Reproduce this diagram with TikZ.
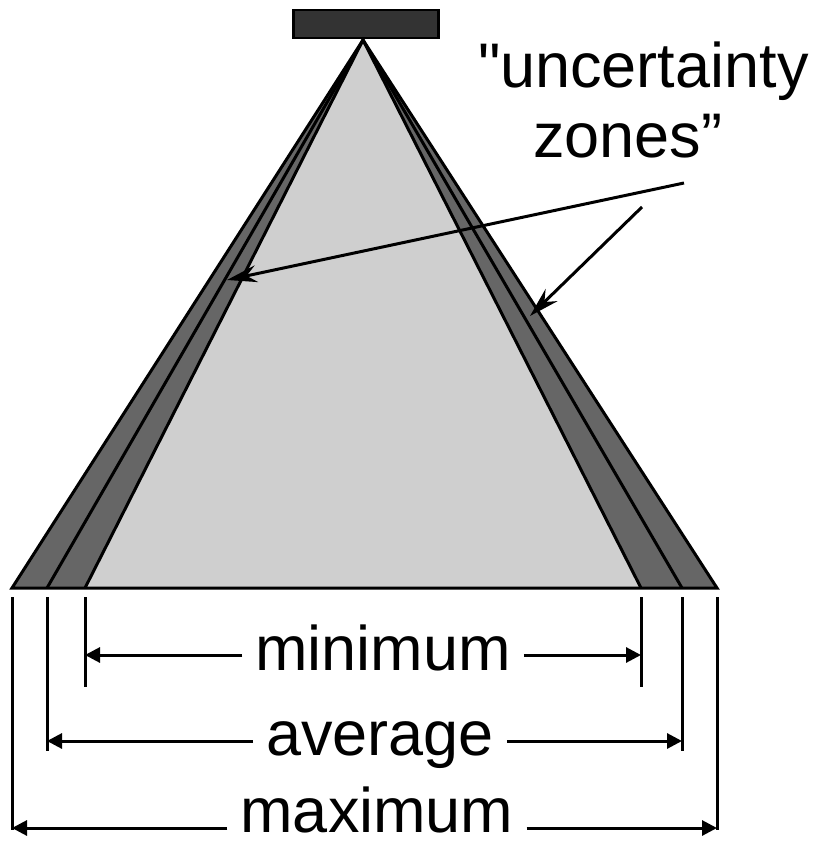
\documentclass[tikz,border=0pt]{standalone}
\usepackage{fontspec}
\setmainfont{Liberation Sans}
\usetikzlibrary{arrows.meta}
\definecolor{zonegray}{HTML}{666666}
\definecolor{coregray}{HTML}{CFCFCF}
\definecolor{boxgray}{HTML}{333333}
\newcommand{\straightquote}{\XeTeXglyph\XeTeXcharglyph"22\relax}
\tikzset{
  lbl/.style={font=\fontsize{63}{70}\selectfont, inner sep=0pt, outer sep=0pt},
  dimlbl/.style={lbl, inner xsep=13pt},
  edge/.style={line width=3pt, line join=miter},
  tick/.style={line width=3pt},
  dimarrow/.style={line width=3pt, -{Triangle[length=15pt,width=15pt]}},
  callout/.style={line width=3pt, -{Stealth[length=30pt,width=17pt,inset=10pt]}}
}
\begin{document}
\begin{tikzpicture}[x=1pt, y=-1pt]
\useasboundingbox (0,0) rectangle (816,842);
% sensor box
\node[draw=black, line width=2.5pt, fill=boxgray, minimum width=145pt, minimum height=28pt, inner sep=0pt, anchor=north west] (box) at (292,9) {};
% pyramid points
\coordinate (A) at (363,40);
\coordinate (L1) at (12,588);
\coordinate (L2) at (47,588);
\coordinate (L3) at (85,588);
\coordinate (R3) at (641,588);
\coordinate (R2) at (682,588);
\coordinate (R1) at (717,588);
\fill[zonegray] (A) -- (L1) -- (R1) -- cycle;
\fill[coregray] (A) -- (L3) -- (R3) -- cycle;
\draw[edge] (L2) -- (A) -- (R2);
\draw[edge] (L3) -- (A) -- (R3);
\draw[edge] (L1) -- (A) -- (R1) -- cycle;
% extension lines
\coordinate (minLt) at (85,597);  \coordinate (minLb) at (85,687);
\coordinate (minRt) at (641,597); \coordinate (minRb) at (641,687);
\coordinate (avgLt) at (47,597);  \coordinate (avgLb) at (47,751);
\coordinate (avgRt) at (682,597); \coordinate (avgRb) at (682,751);
\coordinate (maxLt) at (12,597);  \coordinate (maxLb) at (12,830);
\coordinate (maxRt) at (717,597); \coordinate (maxRb) at (717,830);
\draw[tick] (minLt) -- (minLb);
\draw[tick] (minRt) -- (minRb);
\draw[tick] (avgLt) -- (avgLb);
\draw[tick] (avgRt) -- (avgRb);
\draw[tick] (maxLt) -- (maxLb);
\draw[tick] (maxRt) -- (maxRb);
% arrow tips
\coordinate (minL) at (85,655);  \coordinate (minR) at (641,655);
\coordinate (avgL) at (47,741);  \coordinate (avgR) at (682,741);
\coordinate (maxL) at (12,828);  \coordinate (maxR) at (717,828);
% labels
\node[dimlbl, anchor=base] (minT) at (383,670) {minimum};
\node[dimlbl, anchor=base] (avgT) at (380,755) {average};
\node[dimlbl, anchor=base] (maxT) at (377,832) {maximum};
\draw[dimarrow] (minT.west |- minL) -- (minL);
\draw[dimarrow] (minT.east |- minR) -- (minR);
\draw[dimarrow] (avgT.west |- avgL) -- (avgL);
\draw[dimarrow] (avgT.east |- avgR) -- (avgR);
\draw[dimarrow] (maxT.west |- maxL) -- (maxL);
\draw[dimarrow] (maxT.east |- maxR) -- (maxR);
% uncertainty label
\node[lbl, anchor=base west] (unc) at (478,88) {\straightquote uncertainty};
\node[lbl, anchor=base west] (zon) at (533,158) {zones”};
\coordinate (c1s) at (684,183);
\coordinate (c1e) at (227,280);
\coordinate (c2s) at (642,207);
\coordinate (c2e) at (530,316);
\draw[callout] (c1s) -- (c1e);
\draw[callout] (c2s) -- (c2e);
\end{tikzpicture}
\end{document}
